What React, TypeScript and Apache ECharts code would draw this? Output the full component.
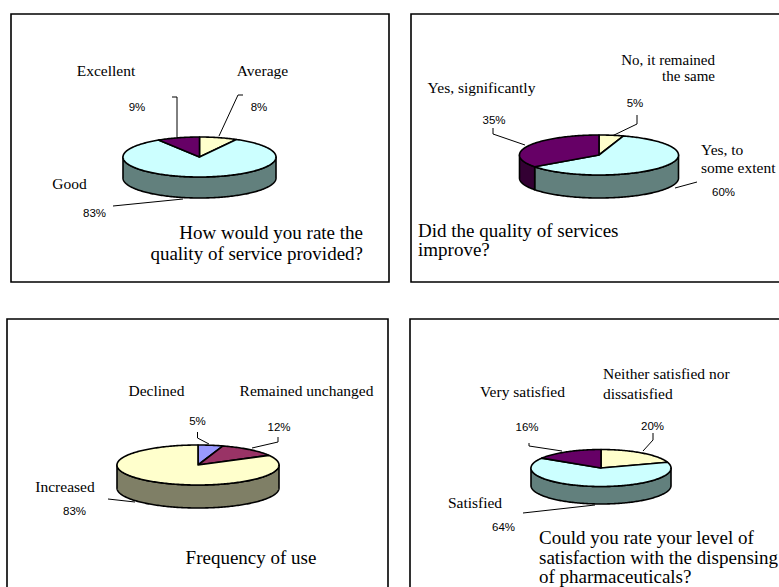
import React, { useEffect, useRef } from "react";
import * as echarts from "echarts";

// ---- data (clockwise from 12 o'clock) ----
const q1Categories = ["Average", "Good", "Excellent"];
const q1Values = [8, 83, 9];
const q2Categories = ["No, it remained the same", "Yes, to some extent", "Yes, significantly"];
const q2Values = [5, 60, 35];
const q3Categories = ["Declined", "Remained unchanged", "Increased"];
const q3Values = [5, 12, 83];
const q4Categories = ["Neither satisfied nor dissatisfied", "Satisfied", "Very satisfied"];
const q4Values = [20, 64, 16];

const q1Title = ["How would you rate the", "quality of service provided?"];
const q2Title = ["Did the quality of services", "improve?"];
const q3Title = ["Frequency of use"];
const q4Title = ["Could you rate your level of", "satisfaction with the dispensing", "of pharmaceuticals?"];

const SERIF = '"Liberation Serif", "Times New Roman", serif';
const SANS = '"Liberation Sans", Arial, sans-serif';

type Geom = { cx: number; cy: number; rx: number; ry: number; depth: number };

function pieSeries(values: number[], names: string[], g: Geom, tops: string[], sides: string[]) {
  const total = values.reduce((a, b) => a + b, 0);
  return {
    type: "custom",
    coordinateSystem: "none",
    silent: true,
    data: values.map((v, i) => ({ value: v, name: names[i] })),
    renderItem: (params: any) => {
      const i = params.dataIndex;
      let start = 0;
      for (let k = 0; k < i; k++) start += values[k];
      const a0 = (start / total) * Math.PI * 2;
      const a1 = ((start + values[i]) / total) * Math.PI * 2;
      const pt = (a: number, dy = 0) => [g.cx + g.rx * Math.sin(a), g.cy - g.ry * Math.cos(a) + dy];
      const children: any[] = [];
      const s0 = Math.max(a0, Math.PI / 2);
      const s1 = Math.min(a1, (3 * Math.PI) / 2);
      if (s1 > s0) {
        const n = Math.max(2, Math.ceil((s1 - s0) / 0.02));
        const pts: number[][] = [];
        for (let k = 0; k <= n; k++) pts.push(pt(s0 + ((s1 - s0) * k) / n));
        for (let k = n; k >= 0; k--) pts.push(pt(s0 + ((s1 - s0) * k) / n, g.depth));
        children.push({
          type: "polygon",
          shape: { points: pts },
          style: { fill: sides[i], stroke: "#000", lineWidth: 1.6, lineJoin: "round" },
        });
      }
      const n2 = Math.max(2, Math.ceil((a1 - a0) / 0.02));
      const tp: number[][] = [[g.cx, g.cy]];
      for (let k = 0; k <= n2; k++) tp.push(pt(a0 + ((a1 - a0) * k) / n2));
      children.push({
        type: "polygon",
        shape: { points: tp },
        style: { fill: tops[i], stroke: "#000", lineWidth: 1.6, lineJoin: "round" },
      });
      return { type: "group", children };
    },
  };
}

function txt(text: string, x: number, y: number, size: number, family: string, align = "center") {
  return {
    type: "text",
    x,
    y,
    silent: true,
    style: {
      text,
      font: `${size}px ${family}`,
      fill: "#000",
      textAlign: align,
      align,
      textVerticalAlign: "middle",
      verticalAlign: "middle",
    },
  };
}

function line(points: number[][]) {
  return {
    type: "polyline",
    silent: true,
    shape: { points },
    style: { stroke: "#000", lineWidth: 1, fill: null },
  };
}

function box(x: number, y: number, w: number, h: number) {
  return {
    type: "rect",
    silent: true,
    shape: { x, y, width: w, height: h },
    style: { fill: "none", stroke: "#000", lineWidth: 1.6 },
  };
}

const pct = (v: number) => `${v}%`;

export default function App() {
  const ref = useRef<HTMLDivElement>(null);
  useEffect(() => {
    if (!ref.current) return;
    const chart = echarts.init(ref.current, null, { renderer: "svg" });
    const LBL = 15.5;
    const PCT = 11.5;
    const TTL = 19;
    const graphic: any[] = [
      box(11, 14, 378, 268),
      box(411, 14, 400, 268),
      box(7, 319, 381, 300),
      box(410, 319, 400, 300),
      // panel 1
      txt(q1Categories[2], 106, 70, LBL, SERIF),
      txt(q1Categories[0], 262.5, 70, LBL, SERIF),
      txt(pct(q1Values[2]), 137, 107, PCT, SANS),
      txt(pct(q1Values[0]), 259, 107, PCT, SANS),
      txt(q1Categories[1], 69.5, 183, LBL, SERIF),
      txt(pct(q1Values[1]), 94.5, 213, PCT, SANS),
      line([[172, 97], [177, 97], [177, 137]]),
      line([[243, 95], [238, 95], [219, 136]]),
      line([[113, 206], [183, 199]]),
      txt(q1Title[0], 363, 232, TTL, SERIF, "right"),
      txt(q1Title[1], 363, 253, TTL, SERIF, "right"),
      // panel 2
      txt("No, it remained", 715, 60, 15, SERIF, "right"),
      txt("the same", 715, 76, 15, SERIF, "right"),
      txt(q2Categories[2], 481.5, 87, LBL, SERIF),
      txt(pct(q2Values[2]), 494, 120, PCT, SANS),
      txt(pct(q2Values[0]), 635, 103, PCT, SANS),
      txt("Yes, to", 701, 149, LBL, SERIF, "left"),
      txt("some extent", 701, 167, LBL, SERIF, "left"),
      txt(pct(q2Values[1]), 723.5, 192, PCT, SANS),
      line([[493, 128], [493, 134], [525, 145]]),
      line([[637, 115], [637, 124], [610, 137]]),
      line([[697, 182], [675, 188]]),
      txt(q2Title[0], 418, 230, TTL, SERIF, "left"),
      txt(q2Title[1], 418, 249, TTL, SERIF, "left"),
      // panel 3
      txt(q3Categories[0], 156.5, 390, LBL, SERIF),
      txt(q3Categories[1], 306.5, 390, LBL, SERIF),
      txt(pct(q3Values[0]), 197.5, 421, PCT, SANS),
      txt(pct(q3Values[1]), 279, 427, PCT, SANS),
      txt(q3Categories[2], 65, 486, LBL, SERIF),
      txt(pct(q3Values[2]), 74.5, 511, PCT, SANS),
      line([[197.5, 432], [197.5, 438], [209, 444]]),
      line([[278, 437], [278, 442], [252, 448]]),
      line([[108, 499], [135, 502]]),
      txt(q3Title[0], 251, 557, TTL, SERIF),
      // panel 4
      txt("Neither satisfied nor", 603, 373, LBL, SERIF, "left"),
      txt("dissatisfied", 603, 393, LBL, SERIF, "left"),
      txt(q4Categories[2], 522.5, 391, LBL, SERIF),
      txt(pct(q4Values[2]), 527, 427, PCT, SANS),
      txt(pct(q4Values[0]), 652.5, 426, PCT, SANS),
      txt(q4Categories[1], 475, 502, LBL, SERIF),
      txt(pct(q4Values[1]), 503.5, 527, PCT, SANS),
      line([[529, 443], [529, 446], [562, 451]]),
      line([[653, 433], [653, 440], [643, 451]]),
      line([[523, 513], [595, 505]]),
      txt(q4Title[0], 539, 537, TTL, SERIF, "left"),
      txt(q4Title[1], 539, 557, TTL, SERIF, "left"),
      txt(q4Title[2], 539, 576, TTL, SERIF, "left"),
    ];
    chart.setOption({
      animation: false,
      backgroundColor: "#ffffff",
      graphic,
      series: [
        pieSeries(q1Values, q1Categories, { cx: 199.5, cy: 157, rx: 76.5, ry: 20, depth: 21 },
          ["#FFFFCC", "#CCFFFF", "#660066"], ["#80806A", "#62807D", "#330033"]),
        pieSeries(q2Values, q2Categories, { cx: 599, cy: 155, rx: 79.5, ry: 20, depth: 23 },
          ["#FFFFCC", "#CCFFFF", "#660066"], ["#80806A", "#62807D", "#330033"]),
        pieSeries(q3Values, q3Categories, { cx: 198, cy: 465, rx: 81, ry: 20, depth: 23 },
          ["#9999FF", "#993366", "#FFFFCC"], ["#4D4D80", "#4D1A33", "#7F7F66"]),
        pieSeries(q4Values, q4Categories, { cx: 601, cy: 468, rx: 70, ry: 18.5, depth: 17.5 },
          ["#FFFFCC", "#CCFFFF", "#660066"], ["#80806A", "#62807D", "#330033"]),
      ],
    });
    return () => chart.dispose();
  }, []);
  return (
    <div
      ref={ref}
      style={{ position: "absolute", left: 0, top: 0, width: 779, height: 587, background: "#fff" }}
    />
  );
}
